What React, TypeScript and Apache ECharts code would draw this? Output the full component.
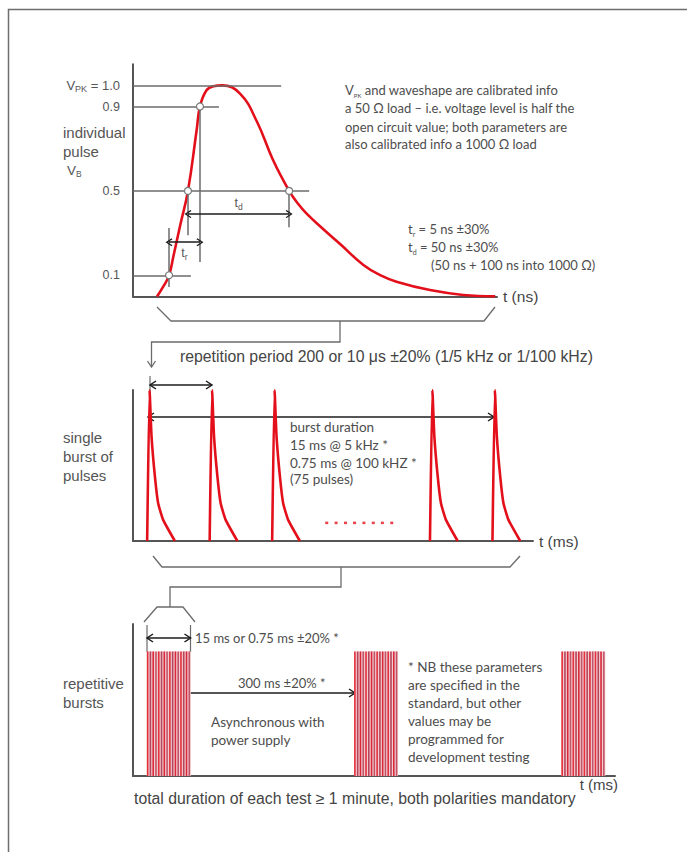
import React, { useEffect, useRef } from "react";
import * as echarts from "echarts";

const FONT_A = '"Liberation Sans", Arial, sans-serif';
const FONT_B = 'Lato, "Open Sans", sans-serif';
const RED = "#e3101b";
const GREY = "#6b6b6b";
const AXIS = "#555555";
const TEXT = "#4d4d4d";
const ARROW = "#1c1c1c";

// ---------- Panel 1: individual pulse (t scaled 0..100, V normalised) ----------
const pulseT = [6.6, 8.3, 9.9, 11.1, 13.0, 15.1, 17.5, 18.4, 20.2, 22.1, 24.5, 29.4, 34.0, 38.5, 42.9, 45.3, 47.7, 52.3, 56.9, 63.3, 67.9, 72.4, 81.6, 90.7, 99.5];
const pulseV = [0, 0.046, 0.1, 0.19, 0.34, 0.5, 0.79, 0.9, 0.977, 0.996, 1.0, 0.961, 0.83, 0.645, 0.5, 0.44, 0.392, 0.318, 0.248, 0.149, 0.101, 0.07, 0.03, 0.007, 0];
const refLevels = [1.0, 0.9, 0.5, 0.1];
const refLabels = ["{v|V}{s|PK}{v| = 1.0}", "{v|0.9}", "{v|0.5}", "{v|0.1}"];
const refLineEnds = [40.7, 23.6, 48.4, 15.9];
const markT = [9.9, 15.1, 18.4, 42.9];
const markV = [0.1, 0.5, 0.9, 0.5];
const dropT = [9.9, 15.1, 18.4, 42.9];
const dropTop = [0.324, 0.5, 0.9, 0.5];
const dropBottom = [0.044, 0.29, 0.163, 0.328];
const spanFrom = [15.1, 9.9];
const spanTo = [42.9, 18.4];
const spanV = [0.39, 0.257];
const spanLabels = ["{v|t}{s|d}", "{v|t}{s|r}"];
const spanLabelPos = ["insideMiddleTop", "insideMiddleBottom"];

// ---------- Panel 2: single burst of pulses ----------
const burstPeakT = [0.053, 0.253, 0.453, 0.958, 1.158];
const pulseShapeDt = [-0.0077, 0, 0.0064, 0.017, 0.0275, 0.0435, 0.081];
const pulseShapeV = [0, 1, 0.69, 0.43, 0.25, 0.14, 0];
const dotT = [0.62, 0.65, 0.68, 0.709, 0.739, 0.769, 0.798, 0.828];
const dotV = 0.12;

// ---------- Panel 3: repetitive bursts ----------
const burstStart = [20, 321, 622];
const burstWidth = 64;
const burstLevel = 1;
const stripeFrac = [0.02, 0.083, 0.146, 0.209, 0.272, 0.335, 0.398, 0.461, 0.524, 0.587, 0.65, 0.713, 0.776, 0.839, 0.902, 0.965];
const stripeColors = ["#e2303d", "#b4455a", "#d8283a", "#c25468"];

const CHEV = "path://M5,0 L10,6.5 L8.8,7.5 L5,2.4 L1.2,7.5 L0,6.5 Z";

function gline(x1: number, y1: number, x2: number, y2: number, color = GREY, w = 1.3) {
  return { type: "line", silent: true, shape: { x1, y1, x2, y2 }, style: { stroke: color, lineWidth: w } };
}
function gpoly(points: number[][], color = GREY, w = 1.3) {
  return { type: "polyline", silent: true, shape: { points }, style: { stroke: color, lineWidth: w, fill: "none" } };
}
function hArrow(x1: number, x2: number, y: number) {
  return [
    gline(x1, y, x2, y, ARROW, 1.5),
    gpoly([[x1 + 6, y - 4], [x1, y], [x1 + 6, y + 4]], ARROW, 1.5),
    gpoly([[x2 - 6, y - 4], [x2, y], [x2 - 6, y + 4]], ARROW, 1.5),
  ];
}
function subRich(font: string, size: number, subSize: number, color: string) {
  return {
    n: { fontFamily: font, fontSize: size, fill: color, lineHeight: size + 4 },
    s: { fontFamily: font, fontSize: subSize, fill: color, lineHeight: subSize, verticalAlign: "bottom" },
  };
}
function gtext(x: number, y: number, str: string, font: string, size: number, color = TEXT, rich?: any) {
  const style: any = {
    text: str,
    fontFamily: font,
    fontSize: size,
    fill: color,
    align: "left",
    verticalAlign: "middle",
    textAlign: "left",
    textVerticalAlign: "middle",
  };
  if (rich) style.rich = rich;
  return { type: "text", silent: true, x, y, style };
}

const SA = 15; // size of the Arial-like labels
const SB = 13.5; // size of the annotation notes

function buildOption(): any {
  const labelRich = {
    v: { fontFamily: FONT_A, fontSize: 12.5, color: "#555", lineHeight: 16 },
    s: { fontFamily: FONT_A, fontSize: 8.5, color: "#555", lineHeight: 8, verticalAlign: "bottom" },
  };
  const peakRich = {
    v: { fontFamily: FONT_A, fontSize: 13, color: "#555", lineHeight: 16 },
    s: { fontFamily: FONT_A, fontSize: 9, color: "#555", lineHeight: 8, verticalAlign: "bottom" },
  };

  const markLineData: any[] = [];
  refLevels.forEach((v, i) => {
    markLineData.push([
      { coord: [0, v], label: { show: true, position: "start", distance: 13, formatter: refLabels[i], rich: i === 0 ? peakRich : labelRich } },
      { coord: [refLineEnds[i], v] },
    ]);
  });
  dropT.forEach((t, i) => {
    markLineData.push([{ coord: [t, dropTop[i]] }, { coord: [t, dropBottom[i]] }]);
  });
  spanFrom.forEach((t, i) => {
    markLineData.push([
      {
        coord: [t, spanV[i]],
        symbol: CHEV,
        symbolSize: [8, 7],
        lineStyle: { color: ARROW, width: 1.5, type: "solid" },
        label: { show: true, position: spanLabelPos[i], distance: 3, formatter: spanLabels[i], rich: labelRich },
      },
      { coord: [spanTo[i], spanV[i]], symbol: CHEV, symbolSize: [8, 7] },
    ]);
  });

  const hiddenAxis = (gridIndex: number, min: number, max: number, name?: string, nameStyle?: any, nameGap = 6) => ({
    type: "value",
    gridIndex,
    min,
    max,
    name,
    nameLocation: "end",
    nameGap,
    nameTextStyle: nameStyle,
    axisLine: { show: true, onZero: false, lineStyle: { color: AXIS, width: 2 } },
    axisTick: { show: false },
    axisLabel: { show: false },
    splitLine: { show: false },
  });
  const nameStyle = { fontFamily: FONT_A, fontSize: 15.5, color: "#444", verticalAlign: "middle" };

  const burstPulseSeries = burstPeakT.map((p) => ({
    type: "line",
    xAxisIndex: 1,
    yAxisIndex: 1,
    data: pulseShapeDt.map((d, j) => [p + d, pulseShapeV[j]]),
    symbol: "none",
    smooth: 0.15,
    lineStyle: { color: RED, width: 2.6 },
    z: 3,
  }));

  const graphic: any[] = [
    { type: "rect", silent: true, z: -10, shape: { x: 8.5, y: 9.5, width: 700, height: 900 }, style: { fill: "none", stroke: "#6e6e6e", lineWidth: 1.5 } },
    // panel 1 texts
    gtext(63, 132, "individual", FONT_A, SA, "#555"),
    gtext(63, 151, "pulse", FONT_A, SA, "#555"),
    gtext(67, 170, "{n|V}{s|B}", FONT_A, 13.5, "#555", subRich(FONT_A, 13.5, 8.5, "#555")),
    gtext(345, 90, "{n|V}{s|PK}{n| and waveshape are calibrated info}", FONT_B, 13, TEXT, subRich(FONT_B, 13, 6, TEXT)),
    gtext(345, 108.3, "a 50 Ω load – i.e. voltage level is half the", FONT_B, 13, TEXT),
    gtext(345, 126.7, "open circuit value; both parameters are", FONT_B, 13, TEXT),
    gtext(345, 144, "also calibrated info a 1000 Ω load", FONT_B, 13, TEXT),
    gtext(408, 229, "{n|t}{s|r}{n| = 5 ns ±30%}", FONT_B, 13, TEXT, subRich(FONT_B, 13, 7, TEXT)),
    gtext(408, 247, "{n|t}{s|d}{n| = 50 ns ±30%}", FONT_B, 13, TEXT, subRich(FONT_B, 13, 7, TEXT)),
    gtext(431, 265, "(50 ns + 100 ns into 1000 Ω)", FONT_B, 13, TEXT),
    // bracket 1 and connector
    gpoly([[157, 307], [171, 321], [484, 321], [495, 307]]),
    gpoly([[340, 321], [340, 342], [151.5, 342], [151.5, 367]]),
    gpoly([[147.5, 361], [151.5, 367], [155.5, 361]]),
    gtext(180, 356.7, "repetition period 200 or 10 μs ±20% (1/5 kHz or 1/100 kHz)", FONT_A, 15.8, "#444"),
    // panel 2 annotations
    gline(150, 376, 150, 396, GREY, 1.2),
    ...hArrow(150, 212, 385),
    ...hArrow(148, 494, 417),
    gtext(290, 426.7, "burst duration", FONT_B, SB, TEXT),
    gtext(290, 445, "15 ms @ 5 kHz *", FONT_B, SB, TEXT),
    gtext(290, 462.7, "0.75 ms @ 100 kHZ *", FONT_B, SB, TEXT),
    gtext(290, 479, "(75 pulses)", FONT_B, SB, TEXT),
    gtext(63, 437, "single", FONT_A, SA, "#555"),
    gtext(63, 456, "burst of", FONT_A, SA, "#555"),
    gtext(63, 475, "pulses", FONT_A, SA, "#555"),
    // bracket 2 and connector
    gpoly([[153, 556], [162, 567], [510, 567], [520, 556]]),
    gpoly([[341, 567], [341, 587], [170, 587], [170, 607]]),
    gpoly([[144, 622], [157, 607], [183, 607], [195, 622]]),
    // panel 3 annotations
    gline(147, 625, 147, 652, GREY, 1.2),
    gline(190.5, 625, 190.5, 652, GREY, 1.2),
    ...hArrow(147, 190.5, 638),
    gtext(195, 638, "15 ms or 0.75 ms ±20% *", FONT_B, 13, TEXT),
    ...hArrow(148, 355, 693),
    gtext(238, 683, "300 ms ±20% *", FONT_B, 13, TEXT),
    gtext(211, 721.7, "Asynchronous with", FONT_B, SB, TEXT),
    gtext(211, 740, "power supply", FONT_B, SB, TEXT),
    gtext(63, 683, "repetitive", FONT_A, SA, "#555"),
    gtext(63, 702, "bursts", FONT_A, SA, "#555"),
    gtext(408, 666.7, "* NB these parameters", FONT_B, SB, TEXT),
    gtext(408, 685, "are specified in the", FONT_B, SB, TEXT),
    gtext(408, 702.7, "standard, but other", FONT_B, SB, TEXT),
    gtext(408, 720.7, "values may be", FONT_B, SB, TEXT),
    gtext(408, 739, "programmed for", FONT_B, SB, TEXT),
    gtext(408, 756.7, "development testing", FONT_B, SB, TEXT),
    gtext(134, 798, "total duration of each test ≥ 1 minute, both polarities mandatory", FONT_A, 15.8, "#444"),
  ];

  return {
    animation: false,
    backgroundColor: "#ffffff",
    grid: [
      { left: 133, top: 64.3, width: 364, height: 232.1, containLabel: false, outerBoundsMode: "none" },
      { left: 133, top: 390, width: 400, height: 151, containLabel: false, outerBoundsMode: "none" },
      { left: 133, top: 624, width: 482, height: 152, containLabel: false, outerBoundsMode: "none" },
    ],
    xAxis: [
      hiddenAxis(0, 0, 100, "t (ns)", nameStyle),
      hiddenAxis(1, 0, 1.28, "t (ms)", nameStyle),
      hiddenAxis(2, 0, 700, "t (ms)", { fontFamily: FONT_A, fontSize: 15, color: "#444", align: "right", verticalAlign: "top", padding: [1, 0, 0, 0] }, 3),
    ],
    yAxis: [hiddenAxis(0, 0, 1.1), hiddenAxis(1, 0, 1), hiddenAxis(2, 0, 1.22)],
    series: [
      {
        type: "line",
        xAxisIndex: 0,
        yAxisIndex: 0,
        data: pulseT.map((t, i) => [t, pulseV[i]]),
        symbol: "none",
        smooth: 0.45,
        lineStyle: { color: RED, width: 2.6 },
        z: 3,
        markLine: {
          silent: true,
          animation: false,
          symbol: ["none", "none"],
          label: { show: false },
          lineStyle: { color: GREY, width: 1.5, type: "solid" },
          emphasis: { disabled: true },
          data: markLineData,
        },
      },
      {
        type: "scatter",
        xAxisIndex: 0,
        yAxisIndex: 0,
        data: markT.map((t, i) => [t, markV[i]]),
        symbol: "circle",
        symbolSize: 7,
        itemStyle: { color: "#ffffff", borderColor: "#777", borderWidth: 1.2, opacity: 1 },
        z: 6,
      },
      ...burstPulseSeries,
      {
        type: "scatter",
        xAxisIndex: 1,
        yAxisIndex: 1,
        data: dotT.map((t) => [t, dotV]),
        symbol: "rect",
        symbolSize: [3, 2.5],
        itemStyle: { color: RED },
      },
      {
        type: "custom",
        xAxisIndex: 2,
        yAxisIndex: 2,
        data: burstStart.map((s) => [s, s + burstWidth, burstLevel]),
        encode: { x: [0, 1], y: 2 },
        renderItem: (params: any, api: any) => {
          const p0 = api.coord([api.value(0), api.value(2)]);
          const p1 = api.coord([api.value(1), 0]);
          const w = p1[0] - p0[0];
          const h = p1[1] - p0[1];
          const children: any[] = [
            { type: "rect", shape: { x: p0[0], y: p0[1], width: w, height: h }, style: { fill: "#f4cdd1" } },
          ];
          stripeFrac.forEach((f, i) => {
            children.push({
              type: "rect",
              shape: { x: p0[0] + f * w - 0.8, y: p0[1], width: 1.6, height: h },
              style: { fill: stripeColors[i % stripeColors.length] },
            });
          });
          return { type: "group", children };
        },
        z: 2,
      },
    ],
    graphic,
  };
}

export default function App() {
  const ref = useRef<HTMLDivElement>(null);
  useEffect(() => {
    document.body.style.margin = "0";
    const chart = echarts.init(ref.current!, null, { renderer: "svg" });
    chart.setOption(buildOption());
    return () => chart.dispose();
  }, []);
  return <div ref={ref} style={{ width: 687, height: 852, background: "#fff" }} />;
}
